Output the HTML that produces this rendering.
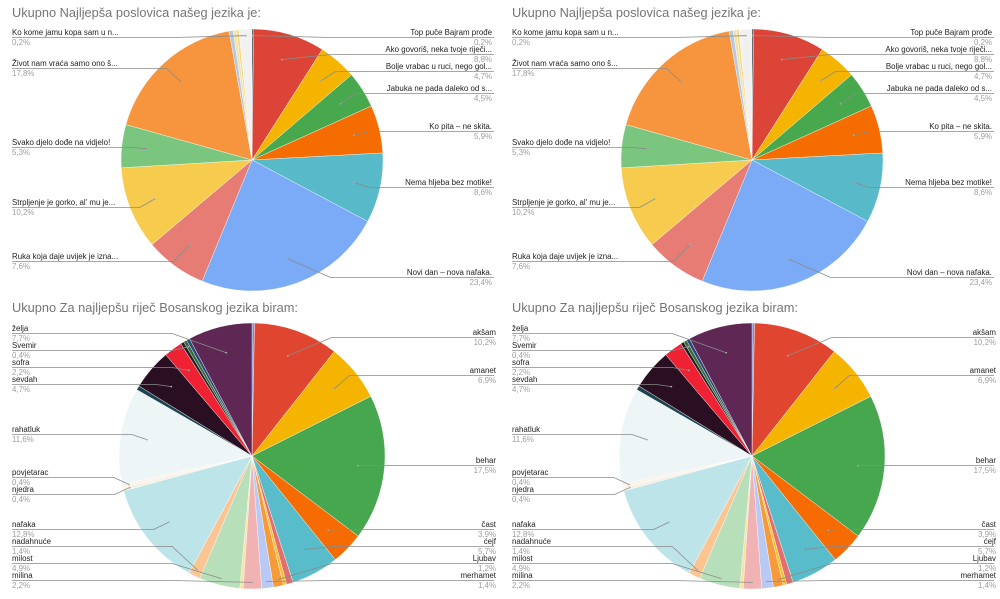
<!DOCTYPE html>
<html><head><meta charset="utf-8"><style>
html,body{margin:0;padding:0;background:#fff;width:1000px;height:599px;overflow:hidden}
svg{display:block;font-family:"Liberation Sans",sans-serif}
.t{font-size:12.8px;fill:#757575}
.n{font-size:7.9px;fill:#222}
.p{font-size:7.9px;fill:#9e9e9e}
</style></head><body>
<svg id="s" width="1000" height="599" viewBox="0 0 1000 599" xmlns="http://www.w3.org/2000/svg">
<g id="A1"></g><g id="A2" transform="translate(500,0)"></g>
<g id="B1"></g><g id="B2" transform="translate(500,0)"></g>
<g id="T1">
<text class="t" x="12" y="17">Ukupno Najljepša poslovica našeg jezika je:</text>
<text class="n" x="12" y="35">Ko kome jamu kopa sam u n...</text><text class="p" x="12" y="45">0,2%</text>
<text class="n" x="12" y="66">Život nam vraća samo ono š...</text><text class="p" x="12" y="76">17,8%</text>
<text class="n" x="12" y="145">Svako djelo dođe na vidjelo!</text><text class="p" x="12" y="155">5,3%</text>
<text class="n" x="12" y="205">Strpljenje je gorko, al' mu je...</text><text class="p" x="12" y="215">10,2%</text>
<text class="n" x="12" y="259">Ruka koja daje uvijek je izna...</text><text class="p" x="12" y="269">7,6%</text>
<g text-anchor="end">
<text class="n" x="492" y="35">Top puče Bajram prođe</text><text class="p" x="492" y="45">0,2%</text>
<text class="n" x="492" y="52">Ako govoriš, neka tvoje riječi...</text><text class="p" x="492" y="62">8,8%</text>
<text class="n" x="492" y="69">Bolje vrabac u ruci, nego gol...</text><text class="p" x="492" y="79">4,7%</text>
<text class="n" x="492" y="91">Jabuka ne pada daleko od s...</text><text class="p" x="492" y="101">4,5%</text>
<text class="n" x="492" y="129">Ko pita – ne skita.</text><text class="p" x="492" y="139">5,9%</text>
<text class="n" x="492" y="185">Nema hljeba bez motike!</text><text class="p" x="492" y="195">8,6%</text>
<text class="n" x="492" y="275">Novi dan – nova nafaka.</text><text class="p" x="492" y="285">23,4%</text>
</g>
<text class="t" x="12" y="312">Ukupno Za najljepšu riječ Bosanskog jezika biram:</text>
<text class="n" x="12" y="331">želja</text><text class="p" x="12" y="341">7,7%</text>
<text class="n" x="12" y="348">Svemir</text><text class="p" x="12" y="358">0,4%</text>
<text class="n" x="12" y="365">sofra</text><text class="p" x="12" y="375">2,2%</text>
<text class="n" x="12" y="382">sevdah</text><text class="p" x="12" y="392">4,7%</text>
<text class="n" x="12" y="432">rahatluk</text><text class="p" x="12" y="442">11,6%</text>
<text class="n" x="12" y="475">povjetarac</text><text class="p" x="12" y="485">0,4%</text>
<text class="n" x="12" y="492">njedra</text><text class="p" x="12" y="502">0,4%</text>
<text class="n" x="12" y="527">nafaka</text><text class="p" x="12" y="537">12,8%</text>
<text class="n" x="12" y="544">nadahnuće</text><text class="p" x="12" y="554">1,4%</text>
<text class="n" x="12" y="561">milost</text><text class="p" x="12" y="571">4,9%</text>
<text class="n" x="12" y="578">milina</text><text class="p" x="12" y="588">2,2%</text>
<g text-anchor="end">
<text class="n" x="496" y="335">akšam</text><text class="p" x="496" y="345">10,2%</text>
<text class="n" x="496" y="373">amanet</text><text class="p" x="496" y="383">6,9%</text>
<text class="n" x="496" y="463">behar</text><text class="p" x="496" y="473">17,5%</text>
<text class="n" x="496" y="527">čast</text><text class="p" x="496" y="537">3,9%</text>
<text class="n" x="496" y="544">ćejf</text><text class="p" x="496" y="554">5,7%</text>
<text class="n" x="496" y="561">Ljubav</text><text class="p" x="496" y="571">1,2%</text>
<text class="n" x="496" y="578">merhamet</text><text class="p" x="496" y="588">1,4%</text>
</g>
</g>
<g transform="translate(500,0)">
<text class="t" x="12" y="17">Ukupno Najljepša poslovica našeg jezika je:</text>
<text class="n" x="12" y="35">Ko kome jamu kopa sam u n...</text><text class="p" x="12" y="45">0,2%</text>
<text class="n" x="12" y="66">Život nam vraća samo ono š...</text><text class="p" x="12" y="76">17,8%</text>
<text class="n" x="12" y="145">Svako djelo dođe na vidjelo!</text><text class="p" x="12" y="155">5,3%</text>
<text class="n" x="12" y="205">Strpljenje je gorko, al' mu je...</text><text class="p" x="12" y="215">10,2%</text>
<text class="n" x="12" y="259">Ruka koja daje uvijek je izna...</text><text class="p" x="12" y="269">7,6%</text>
<g text-anchor="end">
<text class="n" x="492" y="35">Top puče Bajram prođe</text><text class="p" x="492" y="45">0,2%</text>
<text class="n" x="492" y="52">Ako govoriš, neka tvoje riječi...</text><text class="p" x="492" y="62">8,8%</text>
<text class="n" x="492" y="69">Bolje vrabac u ruci, nego gol...</text><text class="p" x="492" y="79">4,7%</text>
<text class="n" x="492" y="91">Jabuka ne pada daleko od s...</text><text class="p" x="492" y="101">4,5%</text>
<text class="n" x="492" y="129">Ko pita – ne skita.</text><text class="p" x="492" y="139">5,9%</text>
<text class="n" x="492" y="185">Nema hljeba bez motike!</text><text class="p" x="492" y="195">8,6%</text>
<text class="n" x="492" y="275">Novi dan – nova nafaka.</text><text class="p" x="492" y="285">23,4%</text>
</g>
<text class="t" x="12" y="312">Ukupno Za najljepšu riječ Bosanskog jezika biram:</text>
<text class="n" x="12" y="331">želja</text><text class="p" x="12" y="341">7,7%</text>
<text class="n" x="12" y="348">Svemir</text><text class="p" x="12" y="358">0,4%</text>
<text class="n" x="12" y="365">sofra</text><text class="p" x="12" y="375">2,2%</text>
<text class="n" x="12" y="382">sevdah</text><text class="p" x="12" y="392">4,7%</text>
<text class="n" x="12" y="432">rahatluk</text><text class="p" x="12" y="442">11,6%</text>
<text class="n" x="12" y="475">povjetarac</text><text class="p" x="12" y="485">0,4%</text>
<text class="n" x="12" y="492">njedra</text><text class="p" x="12" y="502">0,4%</text>
<text class="n" x="12" y="527">nafaka</text><text class="p" x="12" y="537">12,8%</text>
<text class="n" x="12" y="544">nadahnuće</text><text class="p" x="12" y="554">1,4%</text>
<text class="n" x="12" y="561">milost</text><text class="p" x="12" y="571">4,9%</text>
<text class="n" x="12" y="578">milina</text><text class="p" x="12" y="588">2,2%</text>
<g text-anchor="end">
<text class="n" x="496" y="335">akšam</text><text class="p" x="496" y="345">10,2%</text>
<text class="n" x="496" y="373">amanet</text><text class="p" x="496" y="383">6,9%</text>
<text class="n" x="496" y="463">behar</text><text class="p" x="496" y="473">17,5%</text>
<text class="n" x="496" y="527">čast</text><text class="p" x="496" y="537">3,9%</text>
<text class="n" x="496" y="544">ćejf</text><text class="p" x="496" y="554">5,7%</text>
<text class="n" x="496" y="561">Ljubav</text><text class="p" x="496" y="571">1,2%</text>
<text class="n" x="496" y="578">merhamet</text><text class="p" x="496" y="588">1,4%</text>
</g>
</g>
</svg>
<script>
var NS="http://www.w3.org/2000/svg";
function el(p,t,a){var e=document.createElementNS(NS,t);for(var k in a)e.setAttribute(k,a[k]);p.appendChild(e);return e;}
function chart(ids,cx,cy,r,sl,labs){
  var tot=0;sl.forEach(function(s){tot+=s[0];});
  var a=0,mids=[];
  ids.forEach(function(id){
    var g=document.getElementById(id);a=0;mids=[];
    sl.forEach(function(s){
      var a0=a,a1=a+s[0]/tot*2*Math.PI;a=a1;mids.push((a0+a1)/2);
      var x0=cx+r*Math.sin(a0),y0=cy-r*Math.cos(a0),x1=cx+r*Math.sin(a1),y1=cy-r*Math.cos(a1);
      var big=(a1-a0)>Math.PI?1:0;
      el(g,"path",{d:"M"+cx+","+cy+"L"+x0+","+y0+"A"+r+","+r+" 0 "+big+" 1 "+x1+","+y1+"Z",fill:s[1],stroke:"#fff","stroke-width":"0.4"});
    });
    labs.forEach(function(L){
      var m=mids[L[0]],f=L[3]||0.8;
      var px=cx+r*f*Math.sin(m),py=cy-r*f*Math.cos(m),y=L[1]+2.5;
      var side=L[2];
      var hx=side<0?Math.min(px-15,cx-r*0.6):Math.max(px+15,cx+r*0.6);
      if(side<0){el(g,"polyline",{points:"12,"+y+" "+(hx)+","+y+" "+px+","+py,fill:"none",stroke:"#8a8a8a","stroke-width":"0.8"});}
      else{el(g,"polyline",{points:"494,"+y+" "+(hx)+","+y+" "+px+","+py,fill:"none",stroke:"#8a8a8a","stroke-width":"0.8"});}
      el(g,"circle",{cx:px,cy:py,r:0.9,fill:"#aaa"});
    });
  });
}
chart(["A1","A2"],252,160,131,[
 [0.2,"#1d2b3a"],[8.8,"#db4437"],[4.7,"#f4b400"],[4.5,"#47a84d"],[5.9,"#f56c00"],[8.6,"#58b9c8"],[23.4,"#7baaf7"],[7.6,"#e67c73"],[10.2,"#f7cb4d"],[5.3,"#7bc67e"],[17.8,"#f6953e"],[0.5,"#b7c9e2"],[0.4,"#f2e2b0"],[0.3,"#f6d978"],[1.6,"#f1f1f1"]
],[[14,35,-1,0.95],[10,66,-1],[9,145,-1],[8,205,-1],[7,259,-1],[0,35,1,0.95],[1,52,1],[2,69,1],[3,91,1],[4,129,1],[5,185,1],[6,275,1]]);
chart(["B1","B2"],252,456,133,[
 [0.3,"#7b8fd8"],[10.2,"#e0452f"],[6.9,"#f4b400"],[17.5,"#46a74e"],[3.9,"#f66c02"],[5.7,"#58bcca"],[0.8,"#e36e6e"],[0.4,"#f1c232"],[1.2,"#f79a3a"],[1.4,"#b8c9f5"],[2.2,"#f0b2b2"],[0.4,"#f8e39c"],[4.9,"#b7dfb9"],[1.4,"#fbc593"],[12.8,"#bde5e9"],[0.4,"#f6efe5"],[0.4,"#fbf3ea"],[11.6,"#eef5f7"],[0.5,"#1d4250"],[4.9,"#2a0e22"],[2.2,"#ee2233"],[0.4,"#22232a"],[0.4,"#3b6b3b"],[0.4,"#2a4a7a"],[7.7,"#5f2754"]
],[[24,331,-1],[22,348,-1,0.95],[20,365,-1],[19,382,-1],[17,432,-1],[16,475,-1,0.95],[15,492,-1,0.95],[14,527,-1],[13,544,-1,0.95],[12,561,-1,0.95],[10,578,-1,0.95],[1,335,1],[2,373,1],[3,463,1],[4,527,1],[5,544,1],[8,561,1,0.95],[9,578,1,0.95]]);
</script>
</body></html>
